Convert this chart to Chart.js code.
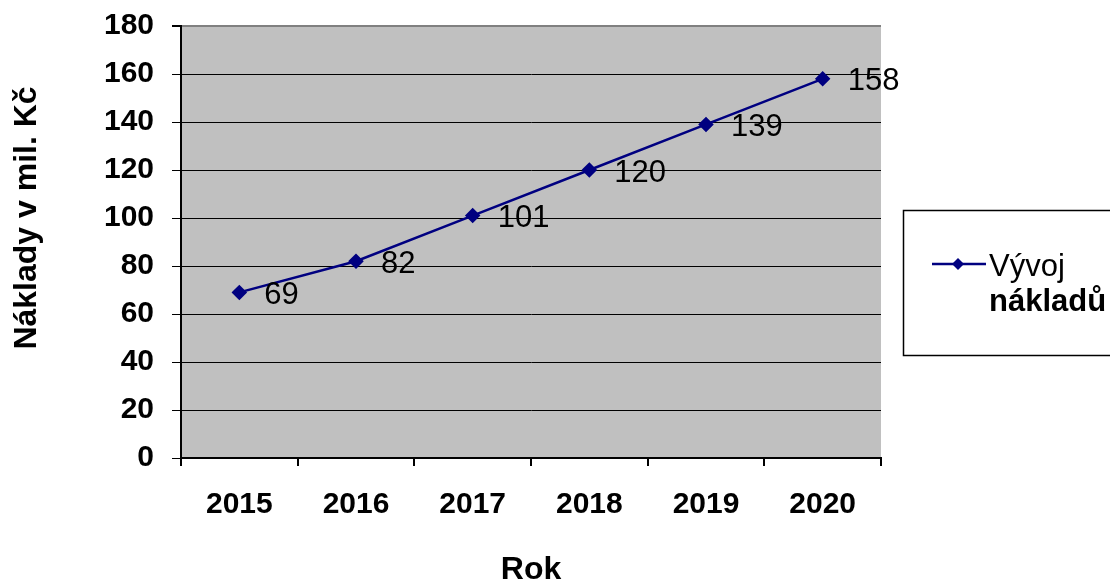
<!DOCTYPE html>
<html>
<head>
<meta charset="utf-8">
<script src="https://cdn.jsdelivr.net/npm/chart.js@4"></script>
<style>
  html, body { margin: 0; padding: 0; background: #fff; }
  #wrap { width: 1110px; height: 583px; }
</style>
</head>
<body>
<div id="wrap"><canvas id="costChart"></canvas></div>
<script>
// Data
const years = ['2015', '2016', '2017', '2018', '2019', '2020'];
const costs = [69, 82, 101, 120, 139, 158];
const seriesName = ['Vývoj', 'nákladů'];
const yTitle = 'Náklady v mil. Kč';
const xTitle = 'Rok';

const FONT = 'Arial, "Liberation Sans", sans-serif';
const NAVY = '#000080';

// Gray plot background
const plotBackground = {
  id: 'plotBackground',
  beforeDraw(chart) {
    const { ctx, chartArea: a } = chart;
    ctx.save();
    ctx.fillStyle = '#C0C0C0';
    ctx.fillRect(a.left, a.top, a.right - a.left, a.bottom - a.top);
    ctx.restore();
  }
};

// Value labels next to each point
const valueLabels = {
  id: 'valueLabels',
  afterDatasetsDraw(chart) {
    const { ctx } = chart;
    const meta = chart.getDatasetMeta(0);
    ctx.save();
    ctx.font = '31px ' + FONT;
    ctx.fillStyle = '#000';
    ctx.textAlign = 'left';
    ctx.textBaseline = 'middle';
    meta.data.forEach((pt, i) => {
      ctx.fillText(String(costs[i]), pt.x + 25, pt.y + 3);
    });
    ctx.restore();
  }
};

// Axis titles and the boxed legend
const extras = {
  id: 'extras',
  afterDraw(chart) {
    const { ctx, chartArea: a } = chart;
    ctx.save();
    ctx.fillStyle = '#000';
    ctx.font = 'bold 32px ' + FONT;
    ctx.textAlign = 'center';
    ctx.textBaseline = 'middle';

    // y title
    ctx.save();
    ctx.translate(27, 218);
    ctx.rotate(-Math.PI / 2);
    ctx.fillText(yTitle, 0, 0);
    ctx.restore();

    // x title
    ctx.fillText(xTitle, (a.left + a.right) / 2, 570);

    // legend box
    ctx.strokeStyle = '#000';
    ctx.lineWidth = 1.5;
    ctx.strokeRect(903.5, 210.5, 215, 145);

    ctx.strokeStyle = NAVY;
    ctx.lineWidth = 2.5;
    ctx.beginPath();
    ctx.moveTo(932, 264);
    ctx.lineTo(986, 264);
    ctx.stroke();
    ctx.fillStyle = NAVY;
    ctx.beginPath();
    ctx.moveTo(958, 258);
    ctx.lineTo(964, 264);
    ctx.lineTo(958, 270);
    ctx.lineTo(952, 264);
    ctx.closePath();
    ctx.fill();

    ctx.fillStyle = '#000';
    ctx.textAlign = 'left';
    ctx.textBaseline = 'alphabetic';
    ctx.font = '31px ' + FONT;
    ctx.fillText(seriesName[0], 989, 276);
    ctx.font = 'bold 31px ' + FONT;
    ctx.fillText(seriesName[1], 989, 311);
    ctx.restore();
  }
};

const chart = new Chart(document.getElementById('costChart'), {
  type: 'line',
  data: {
    labels: years,
    datasets: [{
      label: seriesName.join(' '),
      data: costs,
      borderColor: NAVY,
      backgroundColor: NAVY,
      borderWidth: 2.5,
      pointStyle: 'rectRot',
      pointRadius: 6,
      pointHoverRadius: 6,
      tension: 0
    }]
  },
  options: {
    responsive: true,
    maintainAspectRatio: false,
    animation: false,
    layout: { padding: { top: 26, right: 229, left: 0, bottom: 0 } },
    plugins: {
      legend: { display: false },
      tooltip: { enabled: false }
    },
    scales: {
      x: {
        offset: true,
        afterFit(scale) {
          scale.height = 125;
          scale.paddingLeft = 0;
          scale.paddingRight = 0;
        },
        grid: {
          offset: true,
          drawOnChartArea: true,
          color: ctx => ctx.index === years.length ? '#808080' : 'rgba(0,0,0,0)',
          lineWidth: 2,
          tickColor: '#000',
          tickLength: 8
        },
        border: { color: '#000', width: 2 },
        ticks: {
          color: '#000',
          font: { family: FONT, size: 30, weight: 'bold' },
          padding: 21,
          maxRotation: 0
        }
      },
      y: {
        min: 0,
        max: 180,
        afterFit(scale) {
          scale.width = 181;
          scale.paddingTop = 0;
          scale.paddingBottom = 0;
        },
        grid: {
          color: ctx => ctx.tick && ctx.tick.value === 180 ? '#808080' : '#000',
          lineWidth: ctx => ctx.tick && ctx.tick.value === 180 ? 2 : 1,
          tickColor: '#000',
          tickLength: 9
        },
        border: { color: '#000', width: 2 },
        ticks: {
          stepSize: 20,
          color: '#000',
          font: { family: FONT, size: 30, weight: 'bold' },
          padding: 18
        }
      }
    }
  },
  plugins: [plotBackground, valueLabels, extras]
});
</script>
</body>
</html>
